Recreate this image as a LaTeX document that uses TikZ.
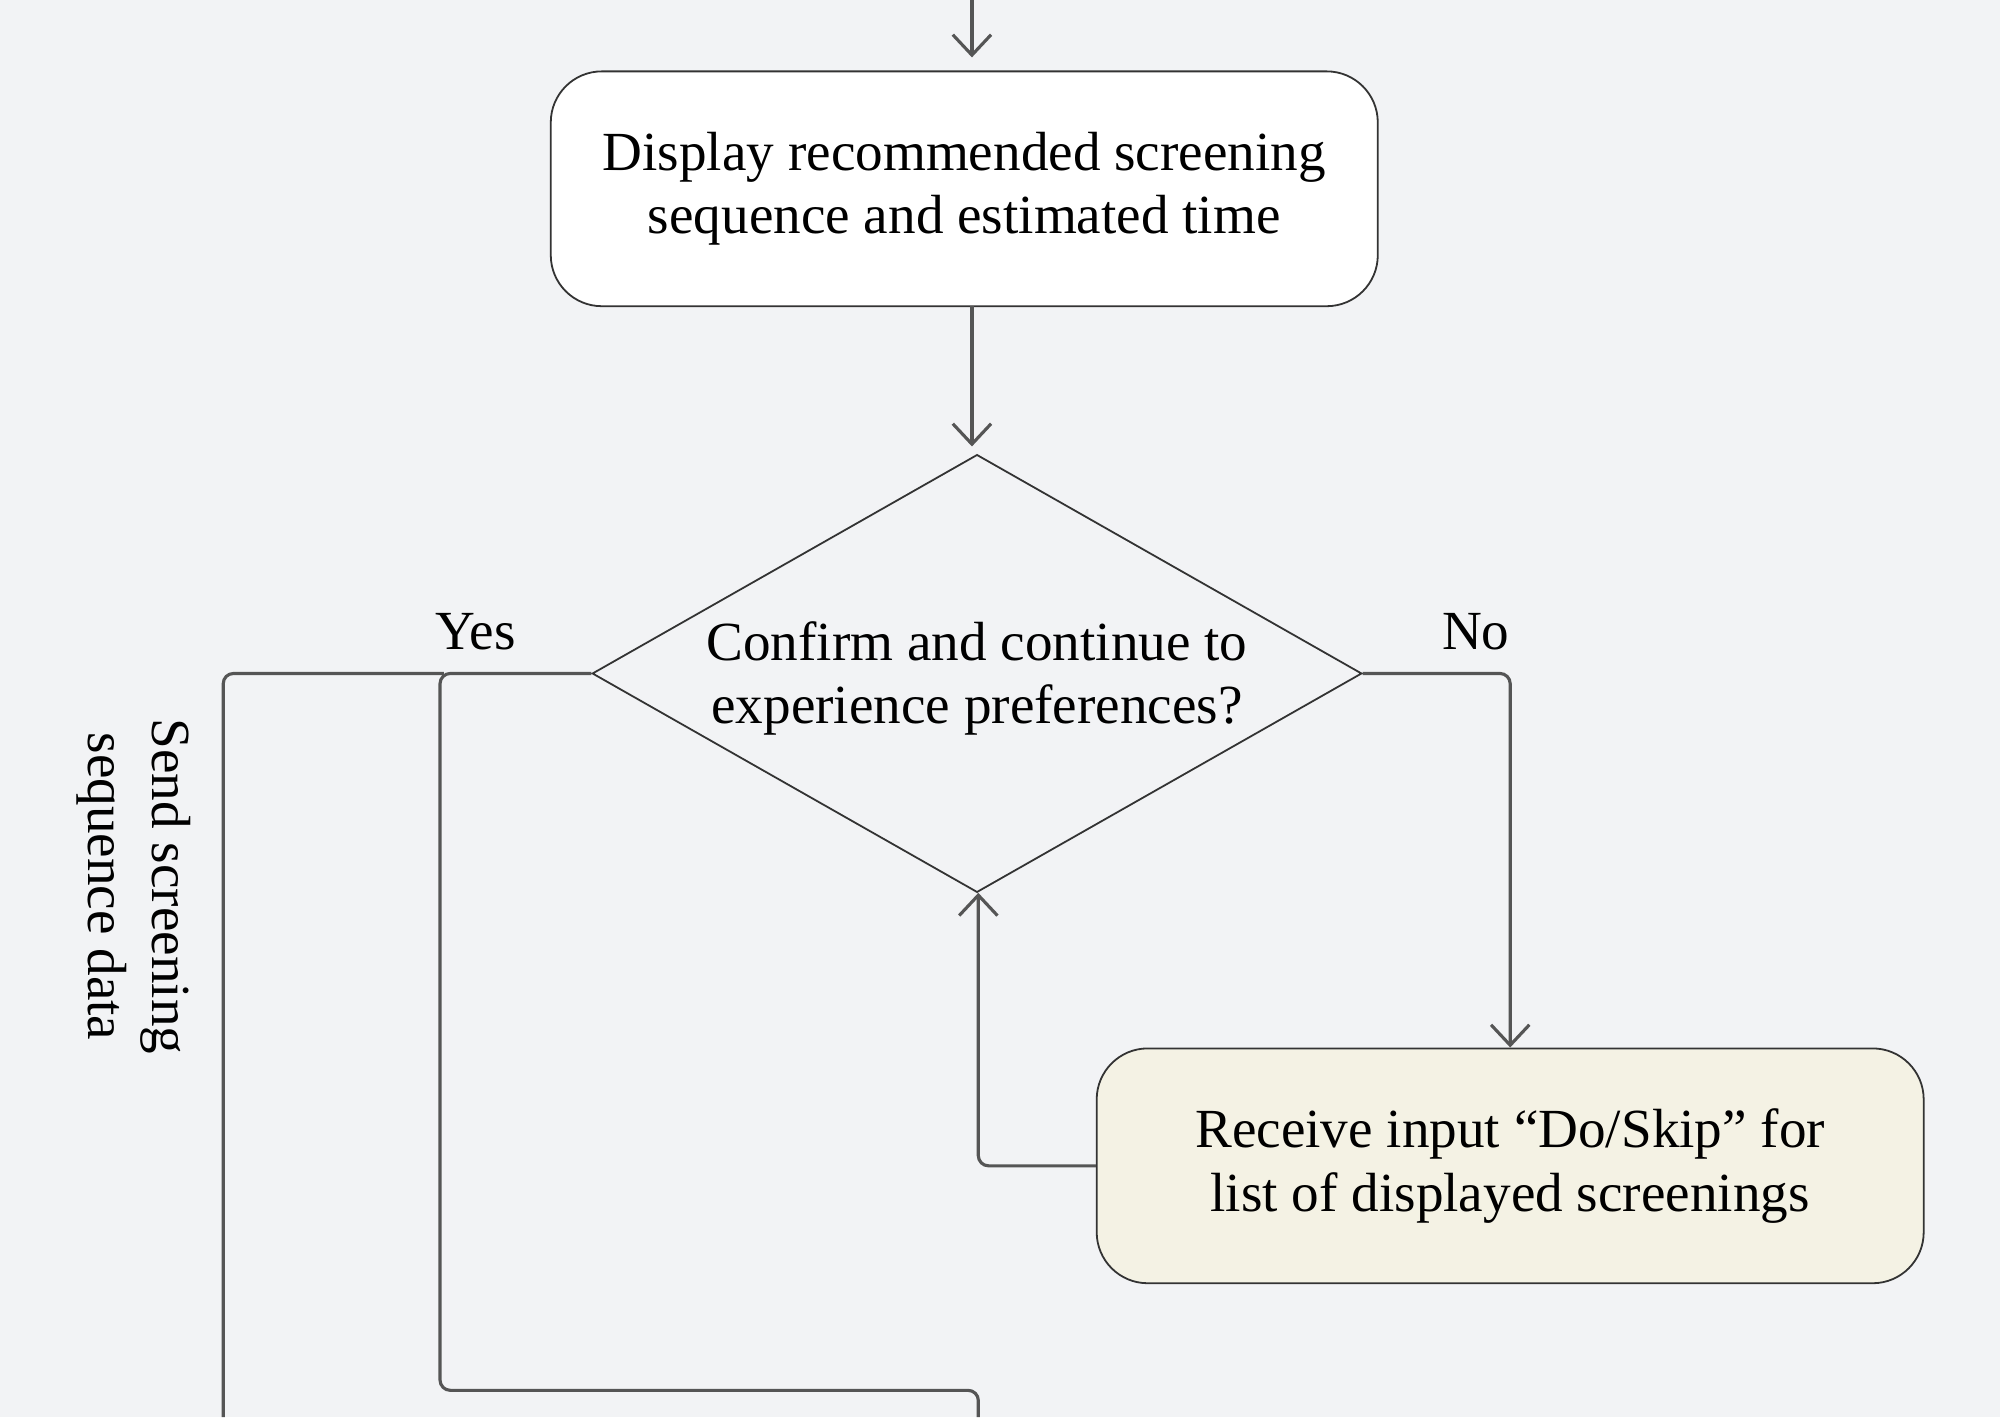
\documentclass[tikz,border=0pt]{standalone}
\usepackage{fontspec}
\setmainfont{Liberation Serif}
\usetikzlibrary{shapes.geometric,arrows.meta}
\definecolor{bg}{HTML}{F2F3F5}
\definecolor{ln}{HTML}{555555}
\definecolor{beige}{HTML}{F4F2E4}
\begin{document}
\begin{tikzpicture}[x=0.01cm,y=-0.01cm,
  box/.style={draw=black!80,rounded corners=0.4cm,minimum width=6.48cm,minimum height=1.84cm,align=center,font=\fontsize{12.3}{14.2}\selectfont},
  conn/.style={draw=ln,line width=0.7pt,rounded corners=0.08cm},
  arr/.style={conn,-{Straight Barb[length=1.6mm,width=3mm]}},
  lbl/.style={font=\fontsize{12.3}{14.2}\selectfont}]
\fill[bg] (0,0) rectangle (1568,1111);
\useasboundingbox (0,0) rectangle (1568,1111);
\coordinate (top) at (762,0);
\node[box,fill=white] (b1) at (756,148) {Display recommended screening\\sequence and estimated time};
\node[draw=black!80,diamond,aspect=1.75,minimum width=6.03cm,minimum height=3.43cm,inner sep=0pt] (d) at (766,528) {};
\node[lbl,align=center] (dt) at (766,532) {Confirm and continue to\\experience preferences?};
\node[box,fill=beige] (b2) at (1184,914) {Receive input “Do/Skip” for\\list of displayed screenings};
\node[lbl] (yes) at (373,495) {Yes};
\node[lbl] (no) at (1157,495) {No};
\node[lbl,rotate=-90,align=center] (send) at (105,695) {Send screening\\sequence data};
\coordinate (c1) at (767,1111);
\coordinate (c2) at (175,1111);
\coordinate (c3) at (348,528);
\draw[arr] (top) -- (762,45);
\draw[arr] (762,240) -- (762,350);
\draw[arr] (d.east) -- (1184,528) -- (b2.north);
\draw[arr] (b2.west) -- (767,914) -- (767,700);
\draw[conn] (d.west) -- (345,528) -- (345,1090) -- (767,1090) -- (c1);
\draw[conn] (c2) -- (175,528) -- (c3);
\end{tikzpicture}
\end{document}
